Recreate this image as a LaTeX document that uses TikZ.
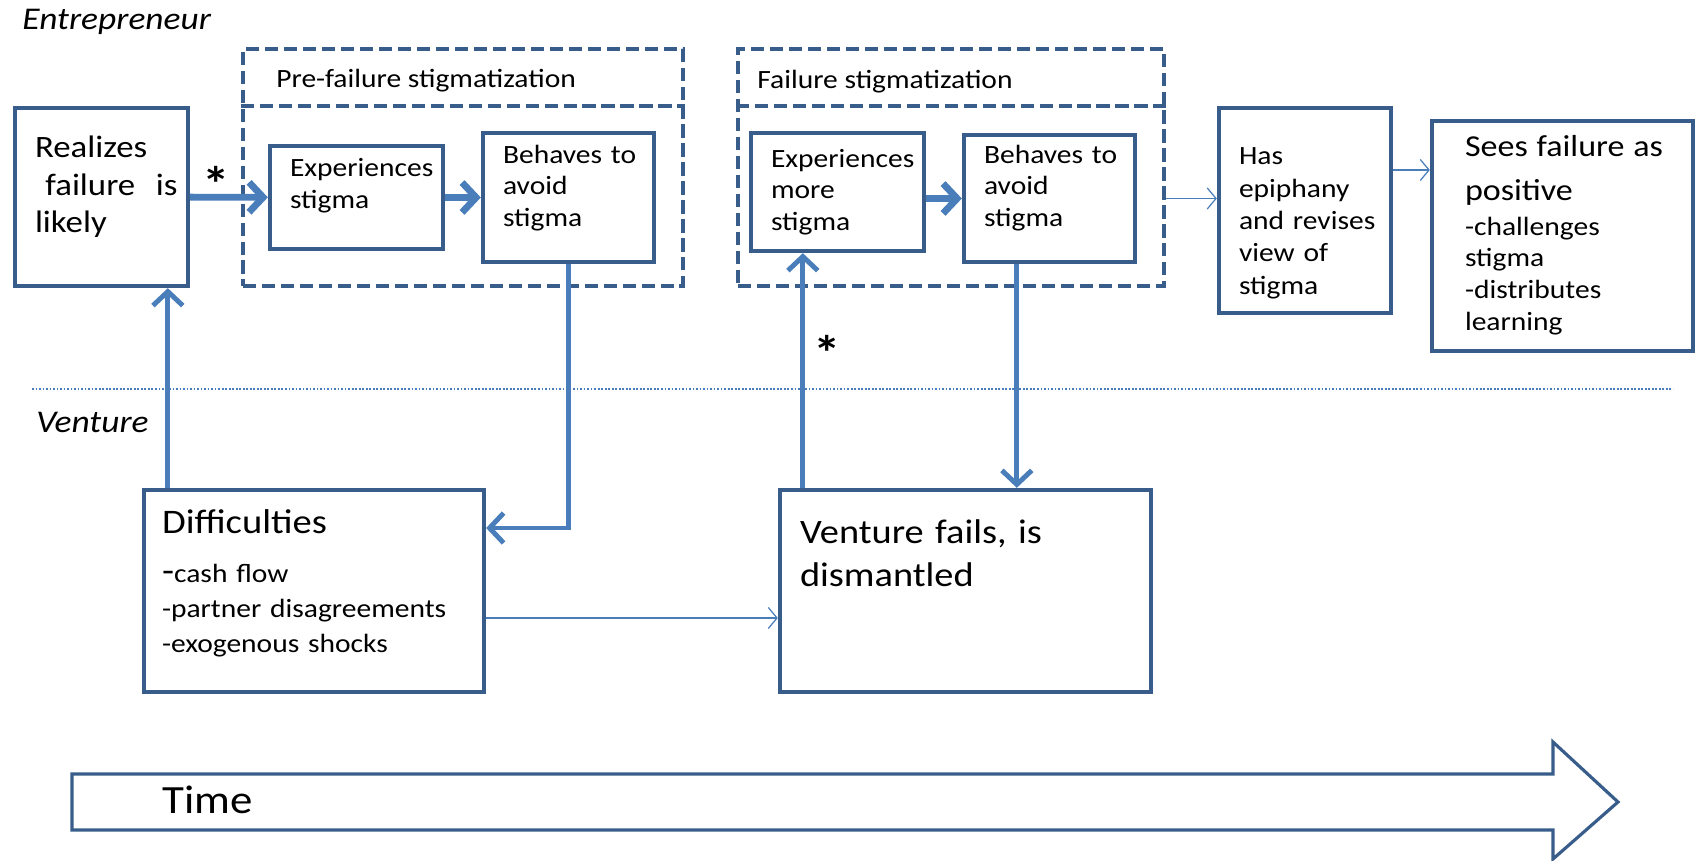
\documentclass[tikz,border=0pt]{standalone}
\usepackage{fontspec}
\setmainfont{Carlito}[FakeStretch=1.12]
\usetikzlibrary{arrows.meta}
\definecolor{boxblue}{HTML}{385D8A}
\definecolor{arrowblue}{HTML}{4A7EBB}
\hyphenpenalty=10000
\exhyphenpenalty=10000

\begin{document}
\begin{tikzpicture}[x=0.02cm, y=-0.02cm,
    box/.style={draw=boxblue, line width=2.5pt, rectangle, align=left, inner xsep=0.4cm, inner ysep=0pt,
        font=\fontsize{15}{18}\selectfont},
    lift/.style={text height=12pt, text depth=#1},
    group/.style={draw=boxblue, line width=2.4pt, dash pattern=on 7.5pt off 3.3pt},
    flow/.style={draw=arrowblue, line width=2.8pt, -{Straight Barb[length=8pt,width=17pt]}},
    thickflow/.style={flow, line width=3.9pt},
    thinflow/.style={draw=arrowblue, line width=0.7pt, -{Straight Barb[length=5pt,width=12pt]}},
    lane/.style={font=\fontsize{18}{21}\selectfont\itshape, anchor=base west, inner sep=0pt},
    title/.style={font=\fontsize{15}{18}\selectfont, anchor=base west, inner sep=0pt},
    star/.style={font=\fontsize{28}{28}\selectfont\bfseries, inner sep=0pt},
    lanesep/.style={draw=arrowblue, line width=0.6pt, dash pattern=on 1pt off 1pt},
    timearrow/.style={draw=boxblue, line width=1.8pt, line join=miter}]
    \useasboundingbox (0,0) rectangle (1695,861);

    \node[lane] (entre) at (22,30) {Entrepreneur};
    \node[lane] (vent) at (36,433) {Venture};
    \draw[lanesep] (32,389) -- (1673,389);

    \node[group, minimum width=8.8cm, minimum height=4.74cm] (pre) at (463,167.5) {};
    \node[group, minimum width=8.52cm, minimum height=4.74cm] (failgrp) at (951,167.5) {};
    \draw[group] ([yshift=-1.18cm]pre.north west) -- ([yshift=-1.18cm]pre.north east);
    \draw[group] ([yshift=-1.18cm]failgrp.north west) -- ([yshift=-1.18cm]failgrp.north east);
    \node[title] (pretitle) at (276,88) {Pre-failure stigmatization};
    \node[title] (failtitle) at (757,89) {Failure stigmatization};

    \node[box, minimum width=3.46cm, minimum height=3.56cm, text width=2.66cm, lift=56.4pt,
        font=\fontsize{17.7}{21.3}\selectfont] (real) at (101.5,197) {Realizes\\\mbox{\ failure\ \ is}\\likely};
    \node[box, minimum width=3.46cm, minimum height=2.06cm, text width=2.66cm, lift=35.4pt] (exp1) at (356.5,197.5) {Experiences\\stigma};
    \node[box, minimum width=3.42cm, minimum height=2.58cm, text width=2.62cm, lift=51.2pt] (beh1) at (568.5,197.5) {Behaves~to\\avoid\\stigma};
    \node[box, minimum width=3.46cm, minimum height=2.36cm, text width=2.66cm, lift=40.4pt] (exp2) at (837.5,192) {Experiences\\more\\stigma};
    \node[box, minimum width=3.42cm, minimum height=2.54cm, text width=2.62cm, lift=52.4pt] (beh2) at (1049.5,198.5) {Behaves~to\\avoid\\stigma};
    \node[box, minimum width=3.44cm, minimum height=4.1cm, text width=2.64cm, lift=63.8pt,
        font=\fontsize{15}{18.4}\selectfont] (epi) at (1305,210.5) {Has\\epiphany\\and~revises\\view~of\\stigma};
    \node[box, minimum width=5.22cm, minimum height=4.6cm, text width=3.9cm, inner xsep=0.66cm, lift=102pt] (pos) at (1562.5,236)
        {\fontsize{17.3}{21}\selectfont Sees~failure~as\\[3.6pt]positive\\[2pt]\fontsize{15}{18}\selectfont -challenges\\stigma\\-distributes\\learning};
    \node[box, minimum width=6.8cm, minimum height=4.04cm, text width=6.08cm, inner xsep=0.36cm, lift=78pt,
        font=\fontsize{15}{20}\selectfont] (diff) at (314,591)
        {{\fontsize{19.6}{24}\selectfont Difficulties}\\[8pt]{\fontsize{20}{20}\selectfont -}cash~flow\\-partner~disagreements\\-exogenous~shocks};
    \node[box, minimum width=7.42cm, minimum height=4.04cm, text width=6.62cm, lift=66.6pt,
        font=\fontsize{19.5}{25}\selectfont] (fail) at (965.5,591) {Venture~fails,~is\\dismantled};

    \node[star] (star1) at (216,184) {*};
    \node[star] (star2) at (827,353) {*};

    \draw[thickflow] (real) -- (exp1);
    \draw[thickflow] (exp1) -- (beh1);
    \draw[thickflow] (exp2.east |- beh2) -- (beh2.west);
    \draw[thinflow] (failgrp.east |- beh2) -- (epi.west |- beh2);
    \coordinate (e2) at ([yshift=0.81cm]epi.east);
    \draw[thinflow] (e2) -- (e2 -| pos.west);

    \coordinate (d1) at ([yshift=1.26cm]diff.east);
    \draw[flow] (beh1.south) |- (d1);
    \coordinate (d0) at ([xshift=0.52cm]diff.north west);
    \draw[flow] (d0) -- (d0 |- real.south);
    \coordinate (f0) at ([xshift=0.5cm]fail.north west);
    \draw[flow] (f0) -- (f0 |- exp2.south);
    \coordinate (b2) at ([xshift=1.1cm]beh2.south west);
    \draw[flow] (b2) -- (b2 |- fail.north);
    \coordinate (d2) at ([yshift=-0.54cm]diff.east);
    \draw[thinflow] (d2) -- (d2 -| fail.west);

    \draw[timearrow] (72,774) -- (1553,774) -- (1553,742) -- (1618,802) -- (1553,859) -- (1553,830) -- (72,830) -- cycle;
    \node[anchor=base west, inner sep=0pt, font=\fontsize{22.8}{24}\selectfont] (time) at (162,813) {Time};
\end{tikzpicture}
\end{document}
